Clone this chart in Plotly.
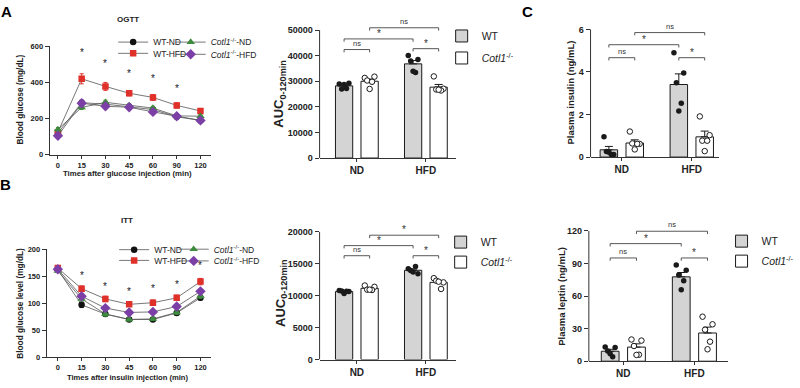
import plotly.graph_objects as go

W, H = 800, 388
FONT = "Liberation Sans, Arial, Helvetica, sans-serif"

# ---------------- data ----------------
TIMES = ["0", "15", "30", "45", "60", "90", "120"]
KO = "<i>Cotl1</i><sup>-/-</sup>"
LINE_NAMES = ["WT-ND", "WT-HFD", KO + "-ND", KO + "-HFD"]

OGTT_WT_ND = [120, 288, 280, 265, 250, 210, 190]
OGTT_WT_ND_SEM = [8, 14, 12, 10, 10, 10, 8]
OGTT_WT_HFD = [125, 420, 378, 340, 317, 273, 242]
OGTT_WT_HFD_SEM = [8, 28, 22, 14, 16, 14, 14]
OGTT_KO_ND = [140, 262, 290, 272, 258, 215, 213]
OGTT_KO_ND_SEM = [10, 12, 12, 10, 10, 10, 8]
OGTT_KO_HFD = [105, 285, 268, 263, 237, 213, 190]
OGTT_KO_HFD_SEM = [10, 12, 12, 10, 10, 10, 8]
OGTT_STAR_T = ["15", "30", "45", "60", "90"]
OGTT_STAR_Y = [565, 506, 450, 423, 369]

ITT_WT_ND = [162, 97, 80, 70, 70, 82, 110]
ITT_WT_ND_SEM = [3, 5, 4, 3, 3, 4, 4]
ITT_WT_HFD = [165, 127, 108, 98, 101, 110, 140]
ITT_WT_HFD_SEM = [3, 5, 5, 3, 5, 5, 6]
ITT_KO_ND = [160, 108, 80, 70, 71, 83, 113]
ITT_KO_ND_SEM = [3, 4, 4, 3, 3, 4, 4]
ITT_KO_HFD = [163, 113, 91, 83, 84, 94, 122]
ITT_KO_HFD_SEM = [3, 4, 4, 3, 3, 4, 4]
ITT_STAR_T = ["15", "30", "45", "60", "90", "120"]
ITT_STAR_Y = [152, 131, 122, 127, 134, 170]

DIETS = ["ND", "HFD"]
BAR_NAMES = ["WT", KO]

AUC_OGTT_WT_MEAN = [28200, 36800]
AUC_OGTT_WT_SEM = [450, 1300]
AUC_OGTT_KO_MEAN = [30000, 27700]
AUC_OGTT_KO_SEM = [850, 1050]
AUC_OGTT_WT_PTS = [[28900, 29200, 27000, 27200, 28700], [40060, 38540, 37900, 33450, 33960]]
AUC_OGTT_KO_PTS = [[31300, 31800, 30300, 29800, 27000], [31900, 27100, 26800, 26400, 26700]]
AUC_OGTT_SIG = [(0, 1, 42400, "ns"), (0, 2, 46550, "*"), (1, 3, 50900, "ns"), (2, 3, 42740, "*")]

AUC_ITT_WT_MEAN = [10650, 13990]
AUC_ITT_WT_SEM = [80, 200]
AUC_ITT_KO_MEAN = [11160, 12090]
AUC_ITT_KO_SEM = [140, 280]
AUC_ITT_WT_PTS = [[10800, 10650, 10750, 10700, 10350], [14230, 13460, 13970, 14580, 13720]]
AUC_ITT_KO_PTS = [[11600, 11400, 10950, 10900, 10950], [12750, 12090, 12350, 11060, 12200]]
AUC_ITT_SIG = [(0, 1, 16270, "ns"), (0, 2, 17850, "*"), (1, 3, 19480, "*"), (2, 3, 16270, "*")]

INS_WT_MEAN = [0.34, 3.41]
INS_WT_SEM = [0.16, 0.5]
INS_KO_MEAN = [0.66, 0.95]
INS_KO_SEM = [0.15, 0.27]
INS_WT_PTS = [[0.96, 0.12, 0.26, 0.12, 0.23], [4.9, 3.95, 3.49, 2.53, 2.17]]
INS_KO_PTS = [[1.2, 0.62, 0.64, 0.62, 0.36], [1.91, 1.03, 0.77, 0.77, 0.28]]
INS_SIG = [(0, 1, 4.67, "ns"), (0, 2, 5.28, "*"), (1, 3, 5.85, "ns"), (2, 3, 4.67, "*")]

LEP_WT_MEAN = [9.2, 77.7]
LEP_WT_SEM = [1.8, 4.0]
LEP_KO_MEAN = [13.0, 26.0]
LEP_KO_SEM = [3.0, 5.4]
LEP_WT_PTS = [[13.2, 12.6, 9.3, 4.0, 6.9], [88.5, 83.7, 79.5, 74.1, 65.7]]
LEP_KO_PTS = [[20, 19, 14, 6, 5.8], [41, 34, 29, 18, 11]]
LEP_SIG = [(0, 1, 95.1, "ns"), (0, 2, 108.3, "*"), (1, 3, 119.7, "ns"), (2, 3, 95.1, "*")]

# ---------------- style ----------------
COLORS = ["#111111", "#e0302a", "#3d8b3d", "#7b3fa6"]
SYMBOLS = ["circle", "square", "triangle-up", "diamond"]
SIZES = [6.5, 6.5, 7.5, 8]
BAR_OFF = 0.185
BAR_W = 0.25
JIT = [-0.07, 0.07, -0.035, 0.035, 0.0]
AX_COL = "#333333"
INK = "#1a1a1a"


def fx(p):
    return p / W


def fy(p):
    return 1 - p / H


def ydom(p_zero, p_tick, tick_val, top_val):
    per = (p_zero - p_tick) / tick_val
    top_px = p_zero - top_val * per
    return [fy(p_zero), fy(top_px)]


fig = go.Figure()

# ---------- line charts ----------
def add_lines(series, sems, xa, ya, legends):
    for i, (vals, sem) in enumerate(zip(series, sems)):
        fig.add_trace(go.Scatter(
            x=TIMES, y=vals, xaxis=xa, yaxis=ya, name=LINE_NAMES[i],
            mode="lines+markers",
            line=dict(color="#555555", width=0.8),
            marker=dict(symbol=SYMBOLS[i], size=SIZES[i], color=COLORS[i]),
            error_y=dict(type="data", array=sem, color=COLORS[i], thickness=1, width=2),
            legend=legends[i], showlegend=True,
        ))


add_lines([OGTT_WT_ND, OGTT_WT_HFD, OGTT_KO_ND, OGTT_KO_HFD],
          [OGTT_WT_ND_SEM, OGTT_WT_HFD_SEM, OGTT_KO_ND_SEM, OGTT_KO_HFD_SEM],
          "x", "y", ["legend4", "legend5", "legend6", "legend7"])
add_lines([ITT_WT_ND, ITT_WT_HFD, ITT_KO_ND, ITT_KO_HFD],
          [ITT_WT_ND_SEM, ITT_WT_HFD_SEM, ITT_KO_ND_SEM, ITT_KO_HFD_SEM],
          "x4", "y4", ["legend8", "legend9", "legend10", "legend11"])

for t, v in zip(OGTT_STAR_T, OGTT_STAR_Y):
    fig.add_annotation(x=TIMES.index(t), y=v, xref="x", yref="y", text="*", showarrow=False,
                       font=dict(family=FONT, size=10, color=INK))
for t, v in zip(ITT_STAR_T, ITT_STAR_Y):
    fig.add_annotation(x=TIMES.index(t), y=v, xref="x4", yref="y4", text="*", showarrow=False,
                       font=dict(family=FONT, size=10, color=INK))

# ---------- bar charts ----------
def bar_x(b):
    return b // 2 + (-BAR_OFF if b % 2 == 0 else BAR_OFF)


def add_bars(wt_m, wt_s, ko_m, ko_s, wt_pts, ko_pts, xa, ya, legend, sig, drop, top_tick):
    xs_wt = [i - BAR_OFF for i in range(len(DIETS))]
    xs_ko = [i + BAR_OFF for i in range(len(DIETS))]
    fig.add_trace(go.Bar(x=xs_wt, y=wt_m, width=BAR_W, xaxis=xa, yaxis=ya, name=BAR_NAMES[0],
                         marker=dict(color="#d4d4d4", line=dict(color=INK, width=1)),
                         error_y=dict(type="data", array=wt_s, arrayminus=[0] * len(wt_s), symmetric=False,
                                      color=INK, thickness=1, width=4),
                         legend=legend, legendgroup="wt" + legend))
    fig.add_trace(go.Bar(x=xs_ko, y=ko_m, width=BAR_W, xaxis=xa, yaxis=ya, name=BAR_NAMES[1],
                         marker=dict(color="#ffffff", line=dict(color=INK, width=1)),
                         error_y=dict(type="data", array=ko_s, arrayminus=[0] * len(ko_s), symmetric=False,
                                      color=INK, thickness=1, width=4),
                         legend=legend, legendgroup="ko" + legend))
    px, py, qx, qy = [], [], [], []
    for i in range(len(DIETS)):
        for j, v in enumerate(wt_pts[i]):
            px.append(i - BAR_OFF + JIT[j]); py.append(v)
        for j, v in enumerate(ko_pts[i]):
            qx.append(i + BAR_OFF + JIT[j]); qy.append(v)
    fig.add_trace(go.Scatter(x=px, y=py, xaxis=xa, yaxis=ya, mode="markers", showlegend=False,
                             marker=dict(size=5.5, color=INK), cliponaxis=False))
    fig.add_trace(go.Scatter(x=qx, y=qy, xaxis=xa, yaxis=ya, mode="markers", showlegend=False,
                             marker=dict(size=5.5, color="#ffffff", line=dict(color=INK, width=1)),
                             cliponaxis=False))
    for (b0, b1, yv, lab) in sig:
        x0, x1 = bar_x(b0), bar_x(b1)
        fig.add_shape(type="path", xref=xa, yref=ya,
                      path=f"M{x0},{yv - drop} L{x0},{yv} L{x1},{yv} L{x1},{yv - drop}",
                      line=dict(color="#444", width=0.9))
        fig.add_annotation(x=(x0 + x1) / 2, y=yv, xref=xa, yref=ya, text=lab, showarrow=False,
                           yanchor="bottom", yshift=-2 if lab == "*" else 0,
                           font=dict(family=FONT, size=7.5 if lab == "ns" else 10, color="#333"))
    # y axis line up to top tick
    fig.add_shape(type="line", xref=xa + " domain", yref=ya, x0=0, x1=0, y0=0, y1=top_tick,
                  line=dict(color=AX_COL, width=1))


add_bars(AUC_OGTT_WT_MEAN, AUC_OGTT_WT_SEM, AUC_OGTT_KO_MEAN, AUC_OGTT_KO_SEM,
         AUC_OGTT_WT_PTS, AUC_OGTT_KO_PTS, "x2", "y2", "legend", AUC_OGTT_SIG, 1100, 50000)
add_bars(INS_WT_MEAN, INS_WT_SEM, INS_KO_MEAN, INS_KO_SEM,
         INS_WT_PTS, INS_KO_PTS, "x3", "y3", "legend12", INS_SIG, 0.13, 6)
add_bars(AUC_ITT_WT_MEAN, AUC_ITT_WT_SEM, AUC_ITT_KO_MEAN, AUC_ITT_KO_SEM,
         AUC_ITT_WT_PTS, AUC_ITT_KO_PTS, "x5", "y5", "legend2", AUC_ITT_SIG, 440, 20000)
add_bars(LEP_WT_MEAN, LEP_WT_SEM, LEP_KO_MEAN, LEP_KO_SEM,
         LEP_WT_PTS, LEP_KO_PTS, "x6", "y6", "legend3", LEP_SIG, 2.6, 120)

# ---------- axes ----------
tick_small = dict(family=FONT, size=7.5, color="#222", weight="bold")
tick_mid = dict(family=FONT, size=9, color="#222", weight="bold")
tick_cat = dict(family=FONT, size=10, color="#222", weight="bold")


def line_x(domain, rng):
    return dict(domain=domain, type="category", range=rng, showline=True, linecolor=AX_COL, linewidth=1,
                ticks="outside", ticklen=3, tickcolor=AX_COL, tickfont=tick_small, showgrid=False,
                zeroline=False)


def line_y(domain, rng, tv):
    return dict(domain=domain, range=rng, tickvals=tv, tickformat="d", showline=True, linecolor=AX_COL,
                linewidth=1, ticks="outside", ticklen=4, tickcolor=AX_COL, tickfont=tick_small,
                showgrid=False, zeroline=False)


def bar_xax(domain, rng):
    return dict(domain=domain, range=rng, tickvals=list(range(len(DIETS))), ticktext=DIETS, showline=True,
                linecolor=AX_COL, linewidth=1, ticks="outside", ticklen=3, tickcolor=AX_COL,
                tickfont=tick_cat, showgrid=False, zeroline=False)


def bar_yax(domain, rng, tv, font):
    return dict(domain=domain, range=rng, tickvals=tv, tickformat="d", showline=False, ticks="outside",
                ticklen=4, tickcolor=AX_COL, tickfont=font, showgrid=False, zeroline=False)


fig.update_layout(
    xaxis=dict(line_x([fx(50), fx(213)], [-0.35, 6.46]), anchor="y"),
    yaxis=dict(line_y([fy(154.3), fy(43.3)], [0, 600], [0, 200, 400, 600]), anchor="x"),
    xaxis4=dict(line_x([fx(47), fx(213)], [-0.47, 6.46]), anchor="y4"),
    yaxis4=dict(line_y([fy(361.7), fy(251)], [0, 200], [0, 50, 100, 150, 200]), anchor="x4"),
    xaxis2=dict(bar_xax([fx(322), fx(459)], [-0.54, 1.43]), anchor="y2"),
    yaxis2=dict(bar_yax(ydom(157.7, 26.7, 50000, 54000), [0, 54000],
                        [0, 10000, 20000, 30000, 40000, 50000], tick_mid), anchor="x2"),
    xaxis5=dict(bar_xax([fx(322), fx(459)], [-0.54, 1.43]), anchor="y5"),
    yaxis5=dict(bar_yax(ydom(364, 233.3, 20000, 21500), [0, 21500],
                        [0, 5000, 10000, 15000, 20000], tick_mid), anchor="x5"),
    xaxis3=dict(bar_xax([fx(595), fx(724)], [-0.447, 1.383]), anchor="y3"),
    yaxis3=dict(bar_yax(ydom(156.7, 26, 6, 6.4), [0, 6.4], [0, 2, 4, 6], tick_mid), anchor="x3"),
    xaxis6=dict(bar_xax([fx(593.3), fx(734)], [-0.485, 1.48]), anchor="y6"),
    yaxis6=dict(bar_yax(ydom(365.7, 232.3, 120, 128), [0, 128], [0, 30, 60, 90, 120], tick_mid),
                anchor="x6"),
)

# ---------- legends ----------
def leg(x_px, y_px, size, gap=0):
    return dict(x=fx(x_px), y=fy(y_px), xanchor="left", yanchor="middle", bgcolor="rgba(0,0,0,0)",
                font=dict(family=FONT, size=size, color="#222"), tracegroupgap=gap, itemwidth=30)


fig.update_layout(
    legend=leg(445, 44, 10.5, 3),
    legend2=leg(444, 254, 10.5, 1),
    legend3=leg(727, 253, 10.5, 1),
    legend4=leg(114, 39, 8.5), legend5=leg(114, 50.5, 8.5),
    legend6=leg(172, 39, 8.5), legend7=leg(172, 51.5, 8.5),
    legend8=leg(115, 251.5, 8.5), legend9=leg(115, 262.5, 8.5),
    legend10=leg(175, 251, 8.5), legend11=leg(175, 263, 8.5),
    legend12=dict(visible=False),
)

# ---------- texts ----------
def txt(x_px, y_px, s, size, bold=True, angle=0, color="#222"):
    fig.add_annotation(x=fx(x_px), y=fy(y_px), xref="paper", yref="paper", text=s, showarrow=False,
                       textangle=angle, xanchor="center", yanchor="middle",
                       font=dict(family=FONT, size=size, color=color, weight="bold" if bold else "normal"))


txt(7, 8, "A", 15, color="#000")
txt(6, 185, "B", 15, color="#000")
txt(531, 8, "C", 15, color="#000")
txt(129, 15.5, "OGTT", 8)
txt(128, 222, "ITT", 8)
txt(20, 98, "Blood glucose (mg/dL)", 8.3, angle=-90)
txt(20, 306, "Blood glucose level (mg/dL)", 8.3, angle=-90)
txt(128, 173.5, "Times after glucose injection (min)", 7.8)
txt(128, 382, "Times after insulin injection (min)", 7.6)
txt(282, 92, "AUC<sub>0-120min</sub>", 13, angle=-90)
txt(283, 296, "AUC<sub>0-120min</sub>", 13, angle=-90)
txt(575, 91, "Plasma insulin (ng/mL)", 9.5, angle=-90)
txt(565, 299, "Plasma leptin (ng/mL)", 9.5, angle=-90)

fig.update_layout(width=W, height=H, margin=dict(l=0, r=0, t=0, b=0),
                  paper_bgcolor="white", plot_bgcolor="white",
                  font=dict(family=FONT, color="#222"), bargap=0.2)

fig.write_html("out.html", config={"displayModeBar": False},
               post_script="document.body.style.margin='0';document.body.style.overflow='hidden';")
